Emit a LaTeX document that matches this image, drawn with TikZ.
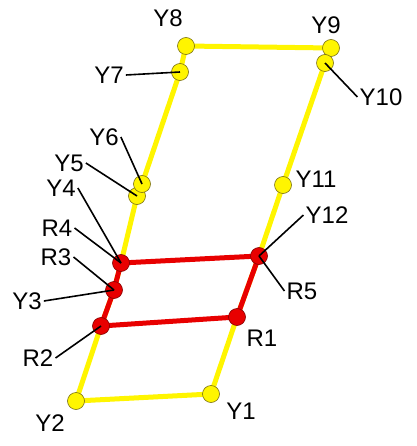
\documentclass[tikz,border=0pt]{standalone}
\usepackage{fontspec}
\setmainfont{Liberation Sans}
\definecolor{yel}{RGB}{255,245,0}
\definecolor{yeledge}{RGB}{120,110,20}
\definecolor{rd}{RGB}{232,0,0}
\definecolor{rdedge}{RGB}{130,0,0}
\tikzset{
  ypt/.style={circle, fill=yel, draw=yeledge, line width=0.6pt, minimum size=17pt, inner sep=0pt},
  rpt/.style={circle, fill=rd, draw=rdedge, line width=0.6pt, minimum size=17pt, inner sep=0pt},
  yline/.style={yel, line width=5pt, line join=round},
  rline/.style={rd, line width=5pt, line join=round},
  lbl/.style={font=\fontsize{24}{24}\selectfont, inner sep=2pt, text=black},
  leader/.style={black, line width=1.6pt}
}
\begin{document}
\begin{tikzpicture}[x=1pt,y=-1pt]
\useasboundingbox (0,0) rectangle (416,446);
% coordinates of points
\coordinate (cY8) at (186,46);
\coordinate (cY9) at (331,48);
\coordinate (cY10) at (325,63);
\coordinate (cY7) at (180,72);
\coordinate (cY6) at (142,184);
\coordinate (cY5) at (137,196);
\coordinate (cY11) at (283,185);
\coordinate (cR4) at (121,263);
\coordinate (cR3) at (114,290);
\coordinate (cR2) at (101,326);
\coordinate (cY2) at (76,401);
\coordinate (cY1) at (211,394);
\coordinate (cR5) at (259,256);
\coordinate (cR1) at (237,317);
% yellow lines
\draw[yline] (cY1) -- (cY2) -- (cR2) -- (cR3) -- (cR4) -- (cY5) -- (cY6) -- (cY7) -- (cY8) -- (cY9) -- (cY10) -- (cY11) -- (cR5) -- (cR1) -- (cY1);
% red lines
\draw[rline] (cR2) -- (cR3) -- (cR4) -- (cR5) -- (cR1) -- cycle;
% points
\node[ypt] (Y8) at (cY8) {};
\node[ypt] (Y9) at (cY9) {};
\node[ypt] (Y10) at (cY10) {};
\node[ypt] (Y7) at (cY7) {};
\node[ypt] (Y5) at (cY5) {};
\node[ypt] (Y6) at (cY6) {};
\node[ypt] (Y11) at (cY11) {};
\node[ypt] (Y2) at (cY2) {};
\node[ypt] (Y1) at (cY1) {};
\node[rpt] (R4) at (cR4) {};
\node[rpt] (R3) at (cR3) {};
\node[rpt] (R2) at (cR2) {};
\node[rpt] (R5) at (cR5) {};
\node[rpt] (R1) at (cR1) {};
% labels
\node[lbl] (lY8) at (168,18) {Y8};
\node[lbl] (lY9) at (326,25) {Y9};
\node[lbl] (lY7) at (109,75) {Y7};
\node[lbl] (lY10) at (381,97) {Y10};
\node[lbl] (lY6) at (104,137) {Y6};
\node[lbl] (lY5) at (69,163) {Y5};
\node[lbl] (lY4) at (61,188) {Y4};
\node[lbl] (lY11) at (316,179) {Y11};
\node[lbl] (lY12) at (327,215) {Y12};
\node[lbl] (lR4) at (57,228) {R4};
\node[lbl] (lR3) at (56,257) {R3};
\node[lbl] (lY3) at (27,301) {Y3};
\node[lbl] (lR5) at (302,291) {R5};
\node[lbl] (lR1) at (262,338) {R1};
\node[lbl] (lR2) at (38,358) {R2};
\node[lbl] (lY1) at (241,411) {Y1};
\node[lbl] (lY2) at (50,423) {Y2};
% leaders
\draw[leader] (lY7.east) -- (Y7.center);
\draw[leader] (lY10.west) -- (Y10.center);
\draw[leader] (lY6.east) -- (Y6.center);
\draw[leader] (lY5.east) -- (Y5.center);
\draw[leader] (lY4.east) -- (R4.center);
\draw[leader] (lR4.east) -- (R4.center);
\draw[leader] (lR3.east) -- (R3.center);
\draw[leader] (lY3.east) -- (R3.center);
\draw[leader] (lR2.east) -- (R2.center);
\draw[leader] (lY12.west) -- (R5.center);
\draw[leader] (lR5.west) -- (R5.center);
\end{tikzpicture}
\end{document}
